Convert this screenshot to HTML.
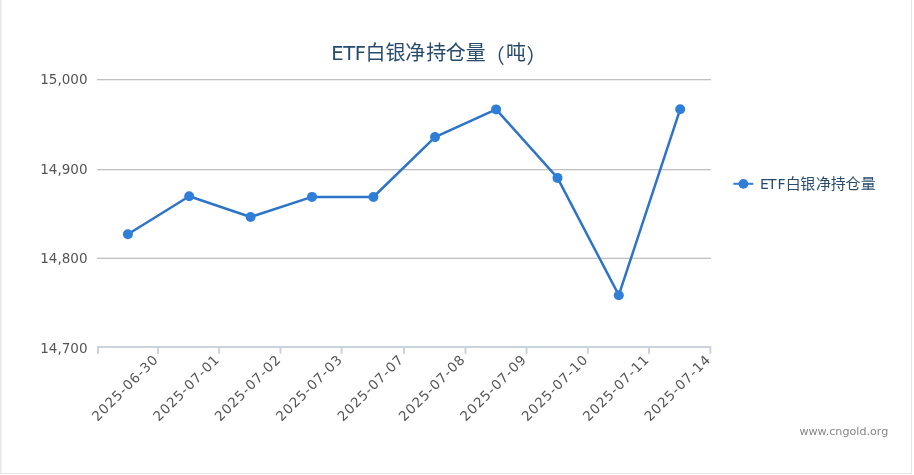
<!DOCTYPE html>
<html><head><meta charset="utf-8"><title>ETF白银净持仓量</title>
<style>
html,body{margin:0;padding:0;background:#fff;width:914px;height:475px;overflow:hidden}
svg{display:block}
text{font-family:"DejaVu Sans","Liberation Sans","Noto Sans CJK SC",sans-serif}
.cjk{font-family:"Liberation Sans","Noto Sans CJK SC",sans-serif}
</style></head><body>
<svg width="914" height="475" viewBox="0 0 914 475">
<rect x="0" y="0" width="914" height="475" fill="#fff"/>
<!-- frame -->
<rect x="0" y="0" width="1" height="474" fill="#e6e6e6"/>
<rect x="1" y="0" width="1" height="473" fill="#f5f5f5"/>
<rect x="911" y="0" width="1" height="474" fill="#e6e6e6"/>
<rect x="0" y="473" width="912" height="1" fill="#e6e6e6"/>
<!-- title -->
<text y="60" fill="#274b6d" font-size="19.5"><tspan x="331.2 343.2 354.65">ETF</tspan><tspan class="cjk" font-size="20" y="60.3 60.3 60.3 60.3 60.3 60.3 62.6 60.3 62.6" x="365.4 385.5 405.2 426.2 445.8 465.8 484.65 506.0 526.5">白银净持仓量（吨）</tspan></text>
<!-- grid -->
<g fill="#c0c0c0">
<rect x="97" y="79" width="614" height="1"/>
<rect x="97" y="169" width="614" height="1"/>
<rect x="97" y="258" width="614" height="1"/>
</g>
<g fill="#ececec">
<rect x="97" y="80" width="614" height="1"/>
<rect x="97" y="170" width="614" height="1"/>
<rect x="97" y="257" width="614" height="1"/>
</g>
<!-- x axis -->
<g fill="#cad3dd">
<rect x="97" y="346" width="614" height="2"/>
<rect x="97" y="346" width="2" height="7.8"/>
<rect x="157" y="346" width="2" height="7.8"/>
<rect x="218.1" y="346" width="2" height="7.8"/>
<rect x="279.5" y="346" width="2" height="7.8"/>
<rect x="340.6" y="346" width="2" height="7.8"/>
<rect x="403" y="346" width="2" height="7.8"/>
<rect x="464.5" y="346" width="2" height="7.8"/>
<rect x="525.5" y="346" width="2" height="7.8"/>
<rect x="586.8" y="346" width="2" height="7.8"/>
<rect x="648" y="346" width="2" height="7.8"/>
<rect x="709.3" y="346" width="2" height="7.8"/>
</g>
<!-- y labels -->
<g font-size="13.5" fill="#555" text-anchor="end">
<text x="87.5" y="84">15,000</text>
<text x="87.5" y="174">14,900</text>
<text x="87.5" y="263">14,800</text>
<text x="87.5" y="353.1">14,700</text>
</g>
<!-- x labels -->
<g font-size="13.5" fill="#555">
<text x="97.40" y="422" textLength="86.5" lengthAdjust="spacing" transform="rotate(-45 97.40 422)">2025-06-30</text>
<text x="158.79" y="422" textLength="86.5" lengthAdjust="spacing" transform="rotate(-45 158.79 422)">2025-07-01</text>
<text x="220.18" y="422" textLength="86.5" lengthAdjust="spacing" transform="rotate(-45 220.18 422)">2025-07-02</text>
<text x="281.57" y="422" textLength="86.5" lengthAdjust="spacing" transform="rotate(-45 281.57 422)">2025-07-03</text>
<text x="342.96" y="422" textLength="86.5" lengthAdjust="spacing" transform="rotate(-45 342.96 422)">2025-07-07</text>
<text x="404.35" y="422" textLength="86.5" lengthAdjust="spacing" transform="rotate(-45 404.35 422)">2025-07-08</text>
<text x="465.74" y="422" textLength="86.5" lengthAdjust="spacing" transform="rotate(-45 465.74 422)">2025-07-09</text>
<text x="527.13" y="422" textLength="86.5" lengthAdjust="spacing" transform="rotate(-45 527.13 422)">2025-07-10</text>
<text x="588.52" y="422" textLength="86.5" lengthAdjust="spacing" transform="rotate(-45 588.52 422)">2025-07-11</text>
<text x="649.91" y="422" textLength="86.5" lengthAdjust="spacing" transform="rotate(-45 649.91 422)">2025-07-14</text>
</g>
<!-- series -->
<polyline fill="none" stroke="#2d74c9" stroke-width="2.5" stroke-linejoin="round" stroke-linecap="round" points="127.9,234.2 189.2,196.3 250.6,217.0 312.0,196.9 373.4,197.0 435.0,137.1 496.1,109.4 557.5,177.9 618.8,295.2 680.2,109.2"/>
<g fill="#2f7ed8">
<circle cx="127.9" cy="234.2" r="5"/>
<circle cx="189.2" cy="196.3" r="5"/>
<circle cx="250.6" cy="217.0" r="5"/>
<circle cx="312.0" cy="196.9" r="5"/>
<circle cx="373.4" cy="197.0" r="5"/>
<circle cx="435.0" cy="137.1" r="5"/>
<circle cx="496.1" cy="109.4" r="5"/>
<circle cx="557.5" cy="177.9" r="5"/>
<circle cx="618.8" cy="295.2" r="5"/>
<circle cx="680.2" cy="109.2" r="5"/>
</g>
<!-- legend -->
<rect x="733.4" y="182.8" width="19.9" height="2" fill="#2f7ed8"/>
<circle cx="743.4" cy="183.9" r="4.9" fill="#2f7ed8"/>
<text y="188.8" font-size="15" fill="#274b6d"><tspan font-size="14" y="188.6" x="760.05 768 777.4">ETF</tspan><tspan class="cjk" font-size="15" x="785.7 800.2 815.9 830.7 845.6 860.7">白银净持仓量</tspan></text>
<!-- credits -->
<text x="888.3" y="435" font-size="11.15" fill="#868686" text-anchor="end">www.cngold.org</text>
</svg>
</body></html>
